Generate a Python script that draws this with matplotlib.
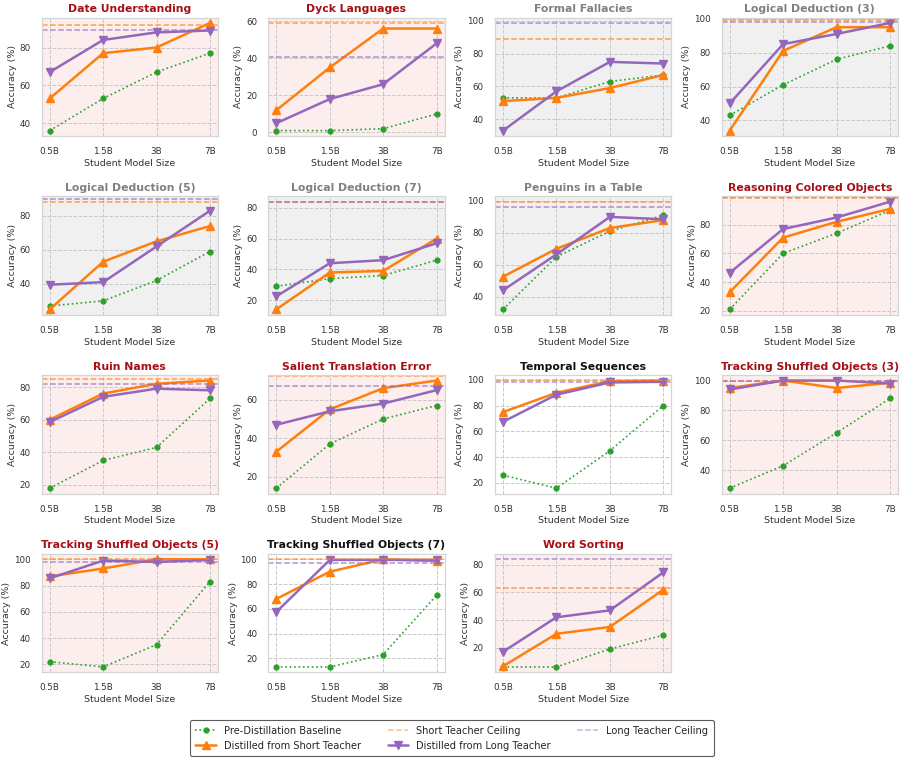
import matplotlib
matplotlib.use("Agg")
import matplotlib.pyplot as plt
from matplotlib.ticker import MultipleLocator
from matplotlib.lines import Line2D
import seaborn as sns

sns.set_theme(style="whitegrid")
plt.rcParams['font.family'] = ['DejaVu Sans']

sizes = ["0.5B", "1.5B", "3B", "7B"]

tasks = ["Date Understanding", "Dyck Languages", "Formal Fallacies", "Logical Deduction (3)",
         "Logical Deduction (5)", "Logical Deduction (7)", "Penguins in a Table",
         "Reasoning Colored Objects", "Ruin Names", "Salient Translation Error",
         "Temporal Sequences", "Tracking Shuffled Objects (3)", "Tracking Shuffled Objects (5)",
         "Tracking Shuffled Objects (7)", "Word Sorting"]

# highlight category per task: "red", "gray", "none"
categories = ["red", "red", "gray", "gray", "gray", "gray", "gray", "red", "red", "red",
              "none", "red", "red", "none", "red"]

baseline = [
    [36, 53, 67, 77],
    [1, 1, 2, 10],
    [53, 53, 63, 67],
    [43, 61, 76, 84],
    [27, 30, 42, 59],
    [29, 34, 36, 46],
    [32, 65, 81, 91],
    [21, 60, 74, 90],
    [18, 35, 43, 73],
    [14, 37, 50, 57],
    [26, 16, 45, 80],
    [28, 43, 65, 88],
    [22, 18, 35, 83],
    [13, 13, 23, 71],
    [6, 6, 19, 29],
]

short_distilled = [
    [53, 77, 80, 93],
    [12, 35, 56, 56],
    [51, 53, 59, 67],
    [34, 81, 95, 95],
    [25, 53, 65, 74],
    [14, 38, 39, 60],
    [52.5, 70, 83, 88],
    [33, 71, 82, 91],
    [60, 76, 82, 84],
    [33, 55, 66, 70],
    [75, 90, 99, 99.5],
    [95, 100, 95, 98.5],
    [87, 93, 100, 100],
    [68, 90, 100, 98.5],
    [6.5, 30, 35, 62],
]

long_distilled = [
    [67, 84, 88, 89],
    [5, 18, 26, 48],
    [33, 57, 75, 74],
    [50, 85, 91, 97.5],
    [39.5, 41, 62, 83],
    [22.5, 44, 46, 57],
    [44, 66.5, 90, 88.5],
    [46.5, 77, 85, 96],
    [58.5, 74, 79, 78],
    [47, 54, 58, 65],
    [67.5, 88.5, 98, 98.5],
    [94, 100, 100, 98],
    [85.5, 99, 98, 99.5],
    [57.5, 99.5, 99.5, 99.5],
    [17, 42, 47, 74.5],
]

short_ceiling = [92, 59, 89, 99, 88.3, 84, 99.5, 98.8, 84.8, 72.3, 99.7, 99.6, 100, 100, 63.4]
long_ceiling = [89.5, 40.5, 98.8, 97.8, 90.1, 84, 96.5, 99.5, 82, 67, 98.2, 99.6, 97.7, 97.3, 84]

C_BASE = "#2ca02c"
C_SHORT = "#ff7f0e"
C_LONG = "#9467bd"
face = {"red": "#fdeeee", "gray": "#f0f0f0", "none": "#ffffff"}
tcol = {"red": "#a50f15", "gray": "#808080", "none": "#111111"}

fig, axes = plt.subplots(4, 4, figsize=(9.07, 7.64), dpi=100)
fig.subplots_adjust(left=0.046, right=0.990, top=0.977, bottom=0.120, wspace=0.286, hspace=0.51)

x = list(range(len(sizes)))
for i, ax in enumerate(axes.flat):
    if i >= len(tasks):
        ax.set_visible(False)
        continue
    cat = categories[i]
    ax.set_facecolor(face[cat])
    ax.plot(x, baseline[i], color=C_BASE, linestyle=":", marker="o", markersize=3.5, linewidth=1.2)
    ax.plot(x, short_distilled[i], color=C_SHORT, linestyle="-", marker="^", markersize=6, linewidth=1.8)
    ax.plot(x, long_distilled[i], color=C_LONG, linestyle="-", marker="v", markersize=6, linewidth=1.8)
    ax.axhline(short_ceiling[i], color=C_SHORT, linestyle="--", linewidth=1.1, alpha=0.7)
    ax.axhline(long_ceiling[i], color=C_LONG, linestyle="--", linewidth=1.1, alpha=0.7)
    ax.set_xticks(x)
    ax.set_xticklabels(sizes)
    ax.yaxis.set_major_locator(MultipleLocator(20))
    ax.tick_params(labelsize=6.3, colors="#333333", pad=2)
    ax.set_xlabel("Student Model Size", fontsize=6.8, color="#333333", labelpad=2)
    ax.set_ylabel("Accuracy (%)", fontsize=6.8, color="#333333", labelpad=2)
    ax.set_title(tasks[i], fontsize=7.8, fontweight="bold", color=tcol[cat], pad=4)
    ax.grid(True, linestyle="--", color="#c8c8c8", linewidth=0.7)
    for s in ax.spines.values():
        s.set_color("#d5d5d5")
        s.set_linewidth(0.9)

handles = [
    Line2D([], [], color=C_BASE, linestyle=":", marker="o", markersize=3.5, linewidth=1.2),
    Line2D([], [], color=C_SHORT, linestyle="-", marker="^", markersize=6, linewidth=1.8),
    Line2D([], [], color=C_SHORT, linestyle="--", linewidth=1.1, alpha=0.5),
    Line2D([], [], color=C_LONG, linestyle="-", marker="v", markersize=6, linewidth=1.8),
    Line2D([], [], color=C_LONG, linestyle="--", linewidth=1.1, alpha=0.5),
]
labels = ["Pre-Distillation Baseline", "Distilled from Short Teacher", "Short Teacher Ceiling",
          "Distilled from Long Teacher", "Long Teacher Ceiling"]
leg = fig.legend(handles, labels, loc="lower center", bbox_to_anchor=(0.498, 0.004), ncol=3,
                 fontsize=7.1, frameon=True, handlelength=2.1, columnspacing=2.7,
                 borderpad=0.55, labelspacing=0.5)
leg.get_frame().set_edgecolor("#333333")
leg.get_frame().set_linewidth(0.8)

fig.savefig("out.png", dpi=100)
